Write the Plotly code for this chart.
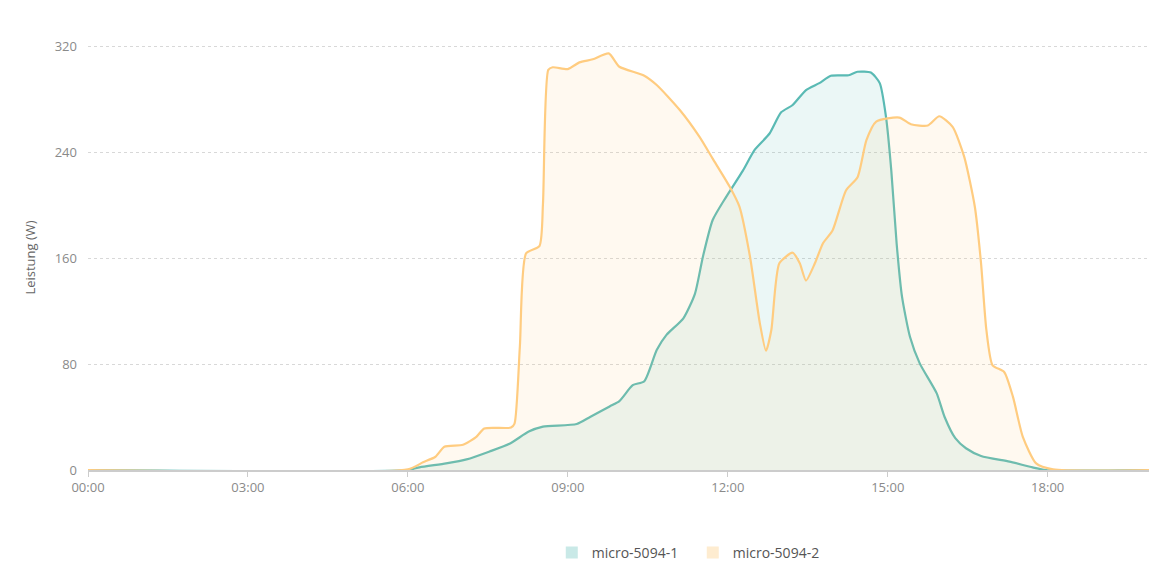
import plotly.graph_objects as go

DAY = "2024-01-01 "

# micro-5094-1 (teal)
t1 = ["00:00", "06:00", "06:13", "06:43", "07:06", "07:32", "07:55", "08:16", "08:32", "09:10",
      "09:25", "09:47", "09:58", "10:13", "10:26", "10:40", "10:51", "11:10", "11:23", "11:32",
      "11:43", "11:58", "12:17", "12:30", "12:47", "13:00", "13:13", "13:28", "13:43", "13:56",
      "14:16", "14:26", "14:41", "14:51", "14:58", "15:04", "15:10", "15:16", "15:25", "15:36",
      "15:55", "16:04", "16:16", "16:28", "16:45", "17:17", "17:43", "17:58", "19:55"]
v1 = [0, 0, 2, 5, 8, 14, 20, 29, 32.7, 34.7,
      40, 48, 52, 64, 67, 90.6, 102, 114.5, 133, 161,
      188.7, 206, 226, 241.5, 254, 270, 275.5, 286.8, 292, 297.6,
      298, 300.6, 300, 292, 266.7, 226, 171, 131, 100.6, 80.5,
      58, 40, 24, 16.4, 10.6, 6.3, 2, 0, 0]

# micro-5094-2 (orange)
t2 = ["00:00", "06:00", "06:17", "06:31", "06:41", "07:02", "07:17", "07:26", "07:56", "08:00",
      "08:06", "08:13", "08:28", "08:32", "08:38", "08:43", "09:00", "09:13", "09:28", "09:46",
      "09:58", "10:25", "10:40", "11:06", "11:28", "11:43", "12:02", "12:13", "12:25", "12:36",
      "12:43", "12:49", "12:58", "13:13", "13:21", "13:28", "13:38", "13:47", "13:58", "14:13",
      "14:26", "14:36", "14:47", "15:13", "15:26", "15:45", "15:58", "16:13", "16:26", "16:38",
      "16:45", "16:51", "16:58", "17:11", "17:21", "17:32", "17:47", "18:06", "19:55"]
v2 = [0, 0.5, 5.8, 10, 17.6, 19, 25, 31.4, 32, 35,
      93, 163.5, 169, 201, 302, 304, 302.6, 307.7, 310, 314.5,
      304.4, 298, 290.6, 271.7, 251.6, 235, 214, 199, 161, 111,
      90, 105.7, 156, 164, 156, 143, 156, 171, 181, 211,
      221, 249, 263, 266, 261, 260, 267, 259, 236.5, 198.7,
      156, 105.7, 79, 74, 55, 25, 5, 0.5, 0]

names = ["micro-5094-1", "micro-5094-2"]
line_colors = ["rgb(90,186,180)", "rgb(255,204,128)"]
fill_colors = ["rgba(90,186,180,0.12)", "rgba(255,204,128,0.12)"]
legend_colors = ["#c9e9e7", "#feecd0"]

x_ticks = ["00:00", "03:00", "06:00", "09:00", "12:00", "15:00", "18:00"]
y_ticks = [0, 80, 160, 240, 320]

fig = go.Figure()
for t, v, n, lc, fc in zip([t1, t2], [v1, v2], names, line_colors, fill_colors):
    fig.add_trace(go.Scatter(
        x=[DAY + s for s in t], y=v, mode="lines", name=n,
        line=dict(color=lc, width=2.2, shape="spline", smoothing=0.6),
        fill="tozeroy", fillcolor=fc, showlegend=False, hoverinfo="skip"))

for n, c in zip(names, legend_colors):
    fig.add_trace(go.Scatter(
        x=[None], y=[None], mode="markers", name=n,
        marker=dict(symbol="square", size=12, color=c)))

fig.update_layout(
    width=1149, height=585,
    margin=dict(l=88, r=0, t=45, b=115),
    paper_bgcolor="white", plot_bgcolor="white",
    font=dict(family="Open Sans, Noto Sans, sans-serif", size=13, color="#888"),
    showlegend=True,
    legend=dict(orientation="h", x=0.57, xanchor="center", y=-0.195, yanchor="middle",
                font=dict(size=14, color="#555"), itemwidth=30, traceorder="normal",
                entrywidth=96, entrywidthmode="pixels"),
    xaxis=dict(
        type="date",
        range=[DAY + "00:00", DAY + "19:54"],
        tickvals=[DAY + s for s in x_ticks], ticktext=x_ticks,
        showgrid=False, zeroline=False,
        showline=True, linecolor="#cccccc", linewidth=1.5,
        ticks="outside", ticklen=5, tickcolor="#cccccc",
        tickfont=dict(size=13, color="#8a8a8a"),
    ),
    yaxis=dict(
        range=[0, 320.8], tickvals=y_ticks,
        showgrid=True, gridcolor="#d8d8d8", griddash="3px,3px", gridwidth=1,
        zeroline=False, showline=False, ticks="", ticklabelstandoff=10,
        tickfont=dict(size=13, color="#8a8a8a"),
        title=dict(text="Leistung (W)", font=dict(size=13, color="#666"), standoff=16),
    ),
)

fig.write_html("out.html", config={"displayModeBar": False},
               post_script="document.body.style.margin='0';")
